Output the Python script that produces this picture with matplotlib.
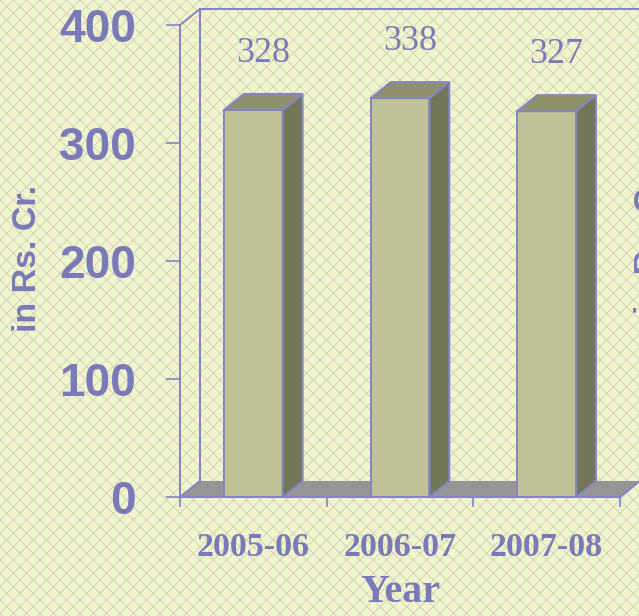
import matplotlib
matplotlib.use("Agg")
import matplotlib.pyplot as plt
from matplotlib.patches import Polygon, Rectangle

# -------------------------------
# Chart data
# -------------------------------
years = ["2005-06", "2006-07", "2007-08"]
amounts = [328, 338, 327]
y_ticks = [0, 100, 200, 300, 400]

# -------------------------------
# Styles
# -------------------------------
DPI = 120
TEXT_COLOR = "#7a7ab8"
EDGE_COLOR = "#8585c6"
FRONT_COLOR = "#c0c194"
SIDE_COLOR = "#72775a"
TOP_COLOR = "#8e906e"
FLOOR_COLOR = "#959595"
BG_COLOR = "#eef6cd"
HATCH_COLOR = "#dccdb8"

DX = 0.136   # depth offset in category units
DY = 13.6    # depth offset in value units
BAR_W = 0.4


def px(n):
    # pixel size -> points at this dpi
    return n * 72 / DPI


plt.rcParams["hatch.linewidth"] = 0.55

fig = plt.figure(figsize=(639 / DPI, 616 / DPI), dpi=DPI)
fig.patch.set_facecolor(BG_COLOR)
fig.add_artist(Rectangle((0, 0), 1, 1, transform=fig.transFigure,
                         facecolor=BG_COLOR, edgecolor=HATCH_COLOR,
                         hatch="xxx", linewidth=0, zorder=-10))

ax = fig.add_axes([180 / 639, 1 - 497 / 616, 440 / 639, 472 / 616])
ax.set_facecolor("none")
ax.set_xlim(-0.5, len(years) - 0.5)
ax.set_ylim(0, max(y_ticks))

x = list(range(len(years)))
x_lo, x_hi = -0.5, len(years) - 0.5
y_top = max(y_ticks)

# floor
ax.add_patch(Polygon([(x_lo, 0), (x_hi, 0), (x_hi + DX, DY), (x_lo + DX, DY)],
                     closed=True, facecolor=FLOOR_COLOR, edgecolor="none",
                     zorder=1, clip_on=False))

# back wall outline
wall_kw = dict(color=EDGE_COLOR, lw=1.2, clip_on=False, zorder=2)
ax.plot([x_lo + DX, x_lo + DX, x_hi + DX, x_hi + DX],
        [DY, y_top + DY, y_top + DY, DY], **wall_kw)
ax.plot([x_lo, x_lo + DX], [y_top, y_top + DY], **wall_kw)
ax.plot([x_lo, x_lo + DX], [0, DY], **wall_kw)
ax.plot([x_hi, x_hi + DX], [0, DY], **wall_kw)

# bars: front face, side face, top face
ax.bar(x, amounts, width=BAR_W, color=FRONT_COLOR, edgecolor=EDGE_COLOR,
       linewidth=1.2, zorder=3)
for xi, v in zip(x, amounts):
    r = xi + BAR_W / 2
    l = xi - BAR_W / 2
    ax.add_patch(Polygon([(r, 0), (r + DX, DY), (r + DX, v + DY), (r, v)],
                         closed=True, facecolor=SIDE_COLOR, edgecolor=EDGE_COLOR,
                         linewidth=1.2, zorder=3, clip_on=False))
    ax.add_patch(Polygon([(l, v), (r, v), (r + DX, v + DY), (l + DX, v + DY)],
                         closed=True, facecolor=TOP_COLOR, edgecolor=EDGE_COLOR,
                         linewidth=1.2, zorder=3, clip_on=False))
    ax.text(xi + DX / 2, v + DY + 34, str(v), ha="center", va="center",
            family="Liberation Serif", fontsize=px(36), color=TEXT_COLOR,
            clip_on=False)

# axes styling
for side in ["top", "right"]:
    ax.spines[side].set_visible(False)
for side in ["left", "bottom"]:
    ax.spines[side].set_color(EDGE_COLOR)
    ax.spines[side].set_linewidth(1.2)
    ax.spines[side].set_zorder(4)

ax.set_yticks(y_ticks)
ax.set_yticklabels([str(t) for t in y_ticks], family="Liberation Sans",
                   fontweight="bold", fontsize=px(46), color=TEXT_COLOR)
ax.tick_params(axis="y", length=px(14), width=1.0, color=EDGE_COLOR, pad=px(30))

ax.set_xticks(x)
ax.set_xticklabels(years, family="Liberation Serif", fontweight="bold",
                   fontsize=px(34), color=TEXT_COLOR)
ax.set_xticks([x_lo + i for i in range(len(years) + 1)], minor=True)
ax.tick_params(axis="x", which="major", length=0, pad=px(35))
ax.tick_params(axis="x", which="minor", length=px(10), width=1.0, color=EDGE_COLOR)

ax.set_xlabel("Year", family="Liberation Serif", fontweight="bold",
              fontsize=px(40), color=TEXT_COLOR, labelpad=px(11))
fig.text(28 / 639, 1 - 258 / 616, "in Rs. Cr.", rotation=90, ha="center",
         va="center", family="Liberation Sans", fontweight="bold",
         fontsize=px(34), color=TEXT_COLOR)
# label of the neighbouring chart, cut off at the right edge as in the source
fig.text(650 / 639, 1 - 240 / 616, "in Rs. Cr.", rotation=90, ha="center",
         va="center", family="Liberation Sans", fontweight="bold",
         fontsize=px(34), color=TEXT_COLOR)

fig.savefig("out.png", dpi=DPI, facecolor=BG_COLOR)
plt.close(fig)
